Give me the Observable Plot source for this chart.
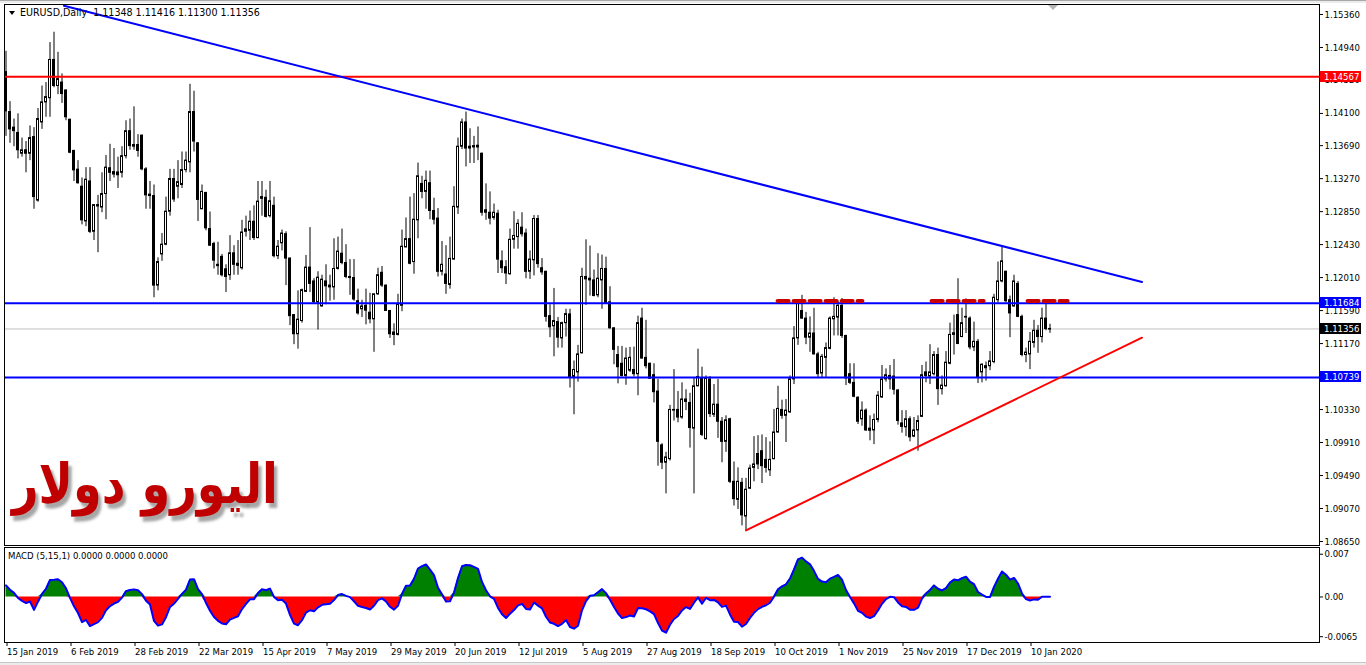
<!DOCTYPE html>
<html><head><meta charset="utf-8">
<script src="https://cdn.jsdelivr.net/npm/d3@7"></script>
<script src="https://cdn.jsdelivr.net/npm/@observablehq/plot@0.6"></script>
<style>
html,body{margin:0;padding:0;background:#fff;overflow:hidden;}
#wrap{position:relative;width:1366px;height:665px;overflow:hidden;font-family:'DejaVu Sans Condensed','DejaVu Sans',sans-serif;}
#wrap svg{position:absolute;left:0;}
.tag{position:absolute;left:1320px;width:41px;height:11px;color:#fff;font-size:9.5px;line-height:11px;padding-left:4px;box-sizing:border-box;font-family:'DejaVu Sans Condensed','DejaVu Sans',sans-serif;}
#title{position:absolute;left:9px;top:6px;font-size:10.6px;line-height:13px;color:#000;white-space:nowrap;}
#title .tri{display:inline-block;width:0;height:0;border-left:3.5px solid transparent;border-right:3.5px solid transparent;border-top:4px solid #000;margin-right:5px;vertical-align:middle;}
#macdlab{position:absolute;left:8px;top:549px;font-size:9.5px;line-height:13px;color:#000;white-space:nowrap;}
#ar{position:absolute;left:12px;top:452px;direction:rtl;font-family:'DejaVu Sans',sans-serif;font-weight:bold;font-size:55px;color:#c00000;white-space:nowrap;text-shadow:4px 5px 3px rgba(0,0,0,0.35);transform:scaleX(0.84);transform-origin:0 0;}
#shift{position:absolute;left:1048px;top:5px;width:0;height:0;border-left:5px solid transparent;border-right:5px solid transparent;border-top:5px solid #b4b4b4;}
#topbar{position:absolute;left:0;top:0;width:1366px;height:3px;background:#ececec;border-top:1px solid #a8a8a8;box-sizing:border-box;}
#botbar{position:absolute;left:0;top:662px;width:1366px;height:3px;background:#ececec;border-top:1px solid #c8c8c8;box-sizing:border-box;}
</style></head><body><div id="wrap"></div>
<script>
// ---- Daily EURUSD candles (bar 0 = 15 Jan 2019, last = 17 Jan 2020) ----
const open = [1.14626,1.14118,1.13919,1.13852,1.13587,1.13631,1.13587,1.13799,1.12990,1.13985,
1.14241,1.14294,1.14781,1.14449,1.14493,1.14392,1.14020,1.13623,1.13384,1.13167,
1.12725,1.13234,1.12593,1.12933,1.12902,1.13074,1.13402,1.13353,1.13349,1.13344,
1.13556,1.13874,1.13676,1.13698,1.13817,1.13388,1.13066,1.13048,1.11908,1.12305,
1.12429,1.12849,1.13265,1.13167,1.13189,1.13379,1.13477,1.14118,1.13720,1.12880,
1.13088,1.12628,1.12438,1.12173,1.12274,1.12115,1.12040,1.12319,1.12186,1.12129,
1.12593,1.12606,1.12721,1.12513,1.13035,1.13026,1.12792,1.12924,1.12283,1.12447,
1.12562,1.12252,1.11532,1.11289,1.11457,1.11828,1.12137,1.11961,1.11695,1.11642,
1.11961,1.11908,1.11885,1.12120,1.12314,1.12195,1.12018,1.12005,1.11709,1.11607,
1.11651,1.11563,1.11479,1.11797,1.12071,1.11908,1.11585,1.11311,1.11280,1.11651,
1.12394,1.12500,1.12208,1.12739,1.13203,1.13101,1.13211,1.12858,1.12761,1.12084,
1.12049,1.11916,1.12239,1.12902,1.13676,1.13985,1.13653,1.13684,1.13667,1.13587,
1.12867,1.12836,1.12769,1.12823,1.12217,1.12142,1.12053,1.12491,1.12526,1.12646,
1.12571,1.12084,1.12230,1.12756,1.12129,1.12084,1.11519,1.11390,1.11443,1.11236,
1.11430,1.11541,1.10745,1.10803,1.11046,1.12018,1.11996,1.11974,1.11784,1.11974,
1.12120,1.11695,1.11364,1.11024,1.10913,1.10758,1.10825,1.10834,1.10780,1.11488,
1.10988,1.10913,1.10767,1.10559,1.09874,1.09653,1.09698,1.10316,1.10325,1.10228,
1.10458,1.10414,1.10087,1.10626,1.10723,1.09954,1.10714,1.10263,1.10392,1.10175,
1.09919,1.10206,1.09410,1.09180,1.09397,1.08968,1.09322,1.09587,1.09764,1.09799,
1.09689,1.09556,1.09698,1.10038,1.10325,1.10250,1.10294,1.10714,1.11236,1.11585,
1.11488,1.11245,1.11298,1.11032,1.10789,1.10988,1.11103,1.11479,1.11501,1.11651,
1.11267,1.10780,1.10670,1.10480,1.10206,1.10316,1.10087,1.10064,1.10197,1.10484,
1.10714,1.10758,1.10750,1.10573,1.10153,1.10104,1.10206,1.09985,1.10064,1.10237,
1.10803,1.10750,1.10780,1.11024,1.10590,1.10626,1.10913,1.11280,1.11532,1.11253,
1.11510,1.11488,1.11121,1.11192,1.10803,1.10882,1.10882,1.10935,1.11722,1.11961,
1.12084,1.11722,1.11642,1.11930,1.11510,1.11024,1.11032,1.11178,1.11333,1.11253,
1.11488,1.11348];
const high = [1.14891,1.14250,1.14029,1.14095,1.13786,1.13742,1.13941,1.13919,1.14162,1.14449,
1.14493,1.15002,1.15134,1.14878,1.14604,1.14400,1.14025,1.13630,1.13499,1.13278,
1.13410,1.13410,1.12940,1.13057,1.13344,1.13565,1.13707,1.13653,1.13543,1.13676,
1.14007,1.14029,1.14184,1.13830,1.13825,1.13410,1.13234,1.13189,1.12261,1.12571,
1.13035,1.13388,1.13388,1.13499,1.13609,1.13609,1.14471,1.14383,1.13725,1.13189,
1.13095,1.12845,1.12460,1.12460,1.12305,1.12173,1.12544,1.12416,1.12482,1.12739,
1.12792,1.12858,1.12924,1.13234,1.13234,1.13123,1.13234,1.13035,1.12482,1.12615,
1.12593,1.12260,1.11540,1.11841,1.11863,1.12292,1.12646,1.11996,1.12084,1.12040,
1.12173,1.12040,1.12504,1.12526,1.12628,1.12429,1.12239,1.12239,1.11863,1.11722,
1.11863,1.11810,1.11800,1.12129,1.12151,1.11915,1.11590,1.11421,1.11797,1.12615,
1.12769,1.13035,1.13079,1.13468,1.13300,1.13366,1.13366,1.13021,1.12889,1.12469,
1.12416,1.12526,1.13167,1.13786,1.14029,1.14118,1.13905,1.13808,1.13928,1.13595,
1.13203,1.13101,1.12946,1.12867,1.12350,1.12226,1.12628,1.12849,1.12747,1.12836,
1.12628,1.12350,1.12800,1.12800,1.12252,1.12090,1.11664,1.11872,1.11501,1.11443,
1.11607,1.11607,1.10948,1.11147,1.12129,1.12491,1.12411,1.12106,1.12314,1.12297,
1.12270,1.11894,1.11370,1.11134,1.11134,1.11112,1.11121,1.11125,1.11519,1.11620,
1.11466,1.10920,1.10913,1.10714,1.09896,1.09786,1.10383,1.10838,1.10559,1.10670,
1.10582,1.10537,1.10736,1.11099,1.10869,1.10758,1.10750,1.10648,1.10714,1.10228,
1.10250,1.10219,1.09662,1.09587,1.09454,1.09454,1.09622,1.09985,1.09998,1.10007,
1.09972,1.09919,1.10330,1.10626,1.10449,1.10458,1.10758,1.11386,1.11731,1.11784,
1.11567,1.11510,1.11620,1.11059,1.11032,1.11178,1.11510,1.11753,1.11709,1.11744,
1.11275,1.10913,1.10913,1.10493,1.10427,1.10338,1.10250,1.10272,1.10559,1.10891,
1.10847,1.10891,1.10966,1.10582,1.10316,1.10316,1.10237,1.10228,1.10250,1.10891,
1.10935,1.11156,1.11068,1.11112,1.10758,1.11068,1.11430,1.11532,1.11996,1.11620,
1.11740,1.11510,1.11443,1.11223,1.10913,1.10935,1.11068,1.11797,1.12208,1.12394,
1.12093,1.11775,1.12040,1.11961,1.11532,1.11112,1.11311,1.11466,1.11399,1.11620,
1.11687,1.11416];
const low = [1.13808,1.13720,1.13676,1.13521,1.13543,1.13344,1.13499,1.12880,1.12970,1.13897,
1.14051,1.14051,1.14427,1.14339,1.14228,1.14007,1.13587,1.13234,1.13200,1.12681,
1.12659,1.12571,1.12482,1.12327,1.12836,1.12747,1.13234,1.13278,1.13145,1.13278,
1.13521,1.13631,1.13631,1.13543,1.13370,1.12880,1.12880,1.11753,1.11841,1.12217,
1.12416,1.12792,1.12968,1.13013,1.13145,1.13344,1.13344,1.13609,1.12725,1.12875,
1.12606,1.12410,1.12120,1.12040,1.12018,1.11819,1.11974,1.12040,1.12040,1.12106,
1.12526,1.12482,1.12482,1.12504,1.12792,1.12769,1.12769,1.12261,1.12239,1.12350,
1.11908,1.11399,1.11156,1.11099,1.11430,1.11819,1.11819,1.11687,1.11342,1.11635,
1.11664,1.11709,1.11722,1.12106,1.12173,1.11996,1.11784,1.11709,1.11532,1.11501,
1.11408,1.11421,1.11059,1.11784,1.11885,1.11580,1.11236,1.11143,1.11267,1.11576,
1.12390,1.12173,1.12053,1.12504,1.13013,1.12880,1.12747,1.12681,1.12018,1.12031,
1.11797,1.11863,1.12235,1.12814,1.13640,1.13419,1.13463,1.13463,1.13499,1.12792,
1.12739,1.12681,1.12739,1.12062,1.12062,1.11921,1.12040,1.12372,1.12372,1.12526,
1.11996,1.11987,1.12031,1.12129,1.12040,1.11443,1.11245,1.11001,1.11112,1.11112,
1.11253,1.10604,1.10263,1.10679,1.11037,1.11656,1.11775,1.11766,1.11753,1.11607,
1.11680,1.11355,1.10900,1.10657,1.10745,1.10639,1.10803,1.10745,1.10506,1.10975,
1.10847,1.10714,1.10414,1.09609,1.09565,1.09256,1.09675,1.10184,1.10162,1.10206,
1.10316,1.09839,1.09256,1.10620,1.09985,1.09941,1.10228,1.10228,1.09963,1.09653,
1.09786,1.09388,1.09101,1.09057,1.08849,1.08791,1.09313,1.09410,1.09565,1.09388,
1.09521,1.09477,1.09690,1.10029,1.10206,1.09910,1.10281,1.10648,1.11147,1.11480,
1.11156,1.11059,1.11024,1.10723,1.10736,1.10736,1.11090,1.11267,1.11267,1.11236,
1.10635,1.10648,1.10480,1.10140,1.10117,1.10051,1.09932,1.09883,1.10162,1.10471,
1.10679,1.10582,1.10515,1.10131,1.10029,1.09985,1.09919,1.09972,1.09799,1.10228,
1.10670,1.10648,1.10758,1.10383,1.10515,1.10617,1.10900,1.11024,1.11156,1.11245,
1.11298,1.11090,1.11068,1.10661,1.10670,1.10692,1.10825,1.10913,1.11687,1.11943,
1.11687,1.11245,1.11634,1.11501,1.11001,1.10926,1.10838,1.11112,1.11046,1.11178,
1.11333,1.11300];
const close = [1.14126,1.13897,1.13874,1.13631,1.13631,1.13587,1.13786,1.13035,1.14029,1.14241,
1.14308,1.14781,1.14449,1.14537,1.14347,1.14051,1.13600,1.13375,1.13211,1.12739,
1.13256,1.12593,1.12933,1.12915,1.13074,1.13410,1.13344,1.13322,1.13313,1.13556,
1.13874,1.13684,1.13698,1.13623,1.13388,1.13057,1.13048,1.11908,1.12208,1.12429,
1.12849,1.13265,1.13004,1.13225,1.13379,1.13499,1.14118,1.13742,1.12999,1.13101,
1.12637,1.12416,1.12226,1.12155,1.12040,1.12018,1.12319,1.12173,1.12160,1.12584,
1.12624,1.12721,1.12513,1.12977,1.13013,1.12783,1.12982,1.12283,1.12403,1.12571,
1.12252,1.11519,1.11289,1.11474,1.11850,1.12137,1.11930,1.11695,1.12009,1.11983,
1.11899,1.11885,1.12120,1.12341,1.12195,1.12018,1.12005,1.11731,1.11554,1.11642,
1.11589,1.11479,1.11797,1.12040,1.11908,1.11585,1.11289,1.11280,1.11673,1.12403,
1.12500,1.12186,1.12747,1.13300,1.13101,1.13242,1.12858,1.12747,1.12084,1.12173,
1.11930,1.12248,1.12911,1.13676,1.13985,1.13653,1.13676,1.13667,1.13689,1.12836,
1.12836,1.12761,1.12836,1.12239,1.12129,1.12062,1.12491,1.12540,1.12694,1.12562,
1.12084,1.12239,1.12756,1.12182,1.12076,1.11510,1.11377,1.11457,1.11245,1.11430,
1.11545,1.10745,1.10834,1.11032,1.12018,1.11987,1.11974,1.11775,1.11996,1.12120,
1.11687,1.11364,1.11090,1.10869,1.10758,1.10979,1.10988,1.10780,1.11430,1.10979,
1.10882,1.10723,1.10551,1.09919,1.09653,1.09720,1.10325,1.10325,1.10228,1.10458,
1.10427,1.10095,1.10626,1.10745,1.10007,1.10723,1.10272,1.10392,1.10175,1.09919,
1.10193,1.09410,1.09189,1.09410,1.08982,1.09309,1.09578,1.09631,1.09631,1.09609,
1.09587,1.09689,1.10038,1.10338,1.10250,1.10316,1.10714,1.11236,1.11687,1.11488,
1.11245,1.11298,1.11032,1.10780,1.11001,1.11112,1.11488,1.11510,1.11651,1.11267,
1.10727,1.10670,1.10493,1.10175,1.10316,1.10064,1.10060,1.10197,1.10506,1.10714,
1.10767,1.10714,1.10582,1.10184,1.10109,1.10206,1.09976,1.10064,1.10184,1.10767,
1.10758,1.10803,1.11024,1.10590,1.10635,1.10926,1.11280,1.11302,1.11165,1.11430,
1.11501,1.11121,1.11192,1.10736,1.10900,1.10856,1.10944,1.11753,1.11961,1.12217,
1.11709,1.11554,1.11961,1.11510,1.11024,1.11055,1.11192,1.11333,1.11253,1.11488,
1.11355,1.11356];

// ---- axis tick labels ----
const dateTickIdx = [0,16,32,48,64,80,96,112,128,144,160,176,192,208,224,240,256];
const dateLabels = ["15 Jan 2019","6 Feb 2019","28 Feb 2019","22 Mar 2019","15 Apr 2019","7 May 2019","29 May 2019","20 Jun 2019","12 Jul 2019","5 Aug 2019","27 Aug 2019","18 Sep 2019","10 Oct 2019","1 Nov 2019","25 Nov 2019","17 Dec 2019","10 Jan 2020"];
const priceTicks = [1.15360,1.14940,1.14520,1.14100,1.13690,1.13270,1.12850,1.12430,1.12010,1.11590,1.11170,1.10330,1.09910,1.09490,1.09070,1.08650];
const macdTicks = [0.007, 0, -0.0065];
const macdTickLabels = ["0.007", "0.00", "-0.0065"];

// ---- drawn objects ----
const redLevels = [1.14567];
const blueLevels = [1.11684, 1.10739];
const bidPrice = 1.11356;
const downTrendIdx = [14.5, 284];
const downTrendPrice = [1.15470, 1.11955];
const upTrendIdx = [185, 284];
const upTrendPrice = [1.08791, 1.11245];
const dashStartIdx = [192.9, 231.4, 255.4];
const dashEndIdx = [214.1, 244.4, 265.4];
const dashPrice = 1.11712;
const macdFirst = 0.0019;   // MACD value read at the first visible bar
const arabicTitle = "اليورو دولار";

// ---- tables built from the arrays ----
const bars = open.map((o, i) => ({i, o, h: high[i], l: low[i], c: close[i]}));
const downRows = downTrendIdx.map((i, k) => ({i, p: downTrendPrice[k]}));
const upRows = upTrendIdx.map((i, k) => ({i, p: upTrendPrice[k]}));
const dashRows = dashStartIdx.flatMap((s, k) => [{seg: k, i: s, p: dashPrice}, {seg: k, i: dashEndIdx[k], p: dashPrice}]);
// MACD(5,15,1) indicator of the close series (EMA15 seeded so the first value matches the picture)
function ema(arr, n, seed) { const k = 2 / (n + 1); let e = seed; return arr.map((v, i) => (e = i === 0 ? seed : e + k * (v - e))); }
const e5 = ema(close, 5, close[0]), e15 = ema(close, 15, close[0] - macdFirst);
const macdRows = close.map((c, i) => ({i, m: e5[i] - e15[i]}));

const FONT = "'DejaVu Sans Condensed','DejaVu Sans',sans-serif";
const xDomain = [-0.375, 328.375];
const wrap = document.getElementById("wrap");

const main = Plot.plot({
  width: 1366, height: 546,
  marginLeft: 4, marginRight: 47, marginTop: 4, marginBottom: 1,
  style: {fontFamily: FONT, fontSize: "9.5px", color: "#000", background: "transparent", overflow: "visible"},
  x: {domain: xDomain, axis: null},
  y: {domain: [1.08599, 1.15487], axis: null},
  marks: [
    Plot.ruleY([bidPrice], {stroke: "#c0c0c0", strokeWidth: 1}),
    Plot.ruleX(bars, {x: "i", y1: "l", y2: "h", stroke: "#000", strokeWidth: 1}),
    Plot.rect(bars, {x1: d => d.i - 0.25, x2: d => d.i + 0.25, y1: "o", y2: "c",
      fill: d => d.c >= d.o ? "#fff" : "#000", stroke: "#000", strokeWidth: 1}),
    Plot.ruleY(redLevels, {stroke: "#ff0000", strokeWidth: 2}),
    Plot.ruleY(blueLevels, {stroke: "#0000ff", strokeWidth: 2}),
    Plot.line(dashRows, {x: "i", y: "p", z: "seg", stroke: "#555", strokeOpacity: 0.6, strokeWidth: 4, strokeDasharray: "11,5", dy: 4, ariaLabel: "dash-shadow"}),
    Plot.line(dashRows, {x: "i", y: "p", z: "seg", stroke: "#c80000", strokeWidth: 4, strokeDasharray: "11,5"}),
    Plot.line(downRows, {x: "i", y: "p", stroke: "#0000ff", strokeWidth: 2, clip: true}),
    Plot.line(upRows, {x: "i", y: "p", stroke: "#ff0000", strokeWidth: 2, clip: true}),
    Plot.axisY({anchor: "right", ticks: priceTicks, tickFormat: d => d.toFixed(5), tickSize: 3, tickPadding: 2, label: null}),
    Plot.frame({stroke: "#000", shapeRendering: "crispEdges"})
  ]
});
main.style.top = "0px";
wrap.appendChild(main);
d3.select(main).selectAll('[aria-label="dash-shadow"]').style("filter", "blur(1.5px)");

const macd = Plot.plot({
  width: 1366, height: 119,
  marginLeft: 4, marginRight: 47, marginTop: 1, marginBottom: 23,
  style: {fontFamily: FONT, fontSize: "9.5px", color: "#000", background: "transparent", overflow: "visible"},
  x: {domain: xDomain},
  y: {domain: [-0.00745, 0.0081]},
  marks: [
    Plot.areaY(macdRows, {x: "i", y1: 0, y2: d => Math.max(0, d.m), fill: "#008000"}),
    Plot.areaY(macdRows, {x: "i", y1: 0, y2: d => Math.min(0, d.m), fill: "#ff0000"}),
    Plot.lineY(macdRows, {x: "i", y: "m", stroke: "#0000ff", strokeWidth: 2}),
    Plot.axisX({ticks: dateTickIdx, tickFormat: d => dateLabels[dateTickIdx.indexOf(d)], tickSize: 4, tickPadding: 2, textAnchor: "start", dx: 1, label: null}),
    Plot.axisY({anchor: "right", ticks: macdTicks, tickFormat: d => macdTickLabels[macdTicks.indexOf(d)], tickSize: 3, tickPadding: 2, label: null}),
    Plot.frame({stroke: "#000", shapeRendering: "crispEdges"})
  ]
});
macd.style.top = "546px";
wrap.appendChild(macd);

// overlays
const ys = main.scale("y");
function addTag(price, bg) {
  const d = document.createElement("div");
  d.className = "tag";
  d.style.top = (ys.apply(price) - 5.5) + "px";
  d.style.background = bg;
  d.textContent = price.toFixed(5);
  wrap.appendChild(d);
}
redLevels.forEach(p => addTag(p, "#ff0000"));
blueLevels.forEach(p => addTag(p, "#0000ff"));
addTag(bidPrice, "#000000");

const last = open.length - 1;
const t = document.createElement("div");
t.id = "title";
t.innerHTML = '<span class="tri"></span>EURUSD,Daily&nbsp;&nbsp;' +
  [open[last], high[last], low[last], close[last]].map(v => v.toFixed(5)).join(" ");
wrap.appendChild(t);

const ml = document.createElement("div");
ml.id = "macdlab";
ml.textContent = "MACD (5,15,1) 0.0000 0.0000 0.0000";
wrap.appendChild(ml);

const ar = document.createElement("div");
ar.id = "ar";
ar.textContent = arabicTitle;
wrap.appendChild(ar);

["shift", "topbar", "botbar"].forEach(id => { const d = document.createElement("div"); d.id = id; wrap.appendChild(d); });
</script></body></html>
